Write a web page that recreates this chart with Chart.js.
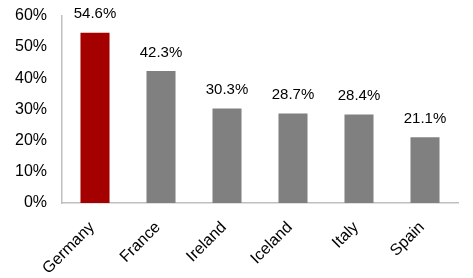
<!DOCTYPE html>
<html>
<head>
<meta charset="utf-8">
<script src="https://cdn.jsdelivr.net/npm/chart.js@4"></script>
<style>
  html, body { margin: 0; padding: 0; background: #fff; }
  #wrap { width: 473px; height: 278px; }
</style>
</head>
<body>
<div id="wrap"><canvas id="chart"></canvas></div>
<script>
const countries = ["Germany", "France", "Ireland", "Iceland", "Italy", "Spain"];
const shares = [54.6, 42.3, 30.3, 28.7, 28.4, 21.1];
const barColors = ["#a50000", "#808080", "#808080", "#808080", "#808080", "#808080"];

const family = "'Liberation Sans', Arial, sans-serif";

// 막대 위 값 표시
const valueLabels = {
  id: "valueLabels",
  afterDatasetsDraw(chart) {
    const ctx = chart.ctx;
    const meta = chart.getDatasetMeta(0);
    ctx.save();
    ctx.font = `15px ${family}`;
    ctx.fillStyle = "#000";
    ctx.textAlign = "center";
    ctx.textBaseline = "bottom";
    meta.data.forEach((bar, i) => {
      ctx.fillText(shares[i].toFixed(1) + "%", bar.x, bar.y - 11);
    });
    ctx.restore();
  },
};

new Chart(document.getElementById("chart").getContext("2d"), {
  type: "bar",
  data: {
    labels: countries,
    datasets: [
      {
        data: shares,
        backgroundColor: barColors,
        borderWidth: 0,
        categoryPercentage: 1,
        barPercentage: 0.44,
      },
    ],
  },
  options: {
    responsive: true,
    maintainAspectRatio: false,
    animation: false,
    layout: { padding: { top: 0, right: 15, left: 0, bottom: 0 } },
    plugins: { legend: { display: false }, tooltip: { enabled: false } },
    scales: {
      x: {
        grid: { display: false, drawTicks: false },
        border: { color: "#bfbfbf", width: 1.5 },
        ticks: {
          color: "#000",
          font: { family: family, size: 16 },
          minRotation: 45,
          maxRotation: 45,
          padding: 15,
          labelOffset: -3,
        },
        afterFit(scale) {
          scale.height = 75;
        },
      },
      y: {
        min: 0,
        max: 60,
        grid: { display: false, drawTicks: false },
        border: { color: "#bfbfbf", width: 1.5 },
        ticks: {
          stepSize: 10,
          color: "#000",
          font: { family: family, size: 16, lineHeight: 0.1 },
          padding: 15,
          callback: (v) => v + "%",
        },
        afterFit(scale) {
          scale.width = 62;
        },
      },
    },
  },
  plugins: [valueLabels],
});
</script>
</body>
</html>
